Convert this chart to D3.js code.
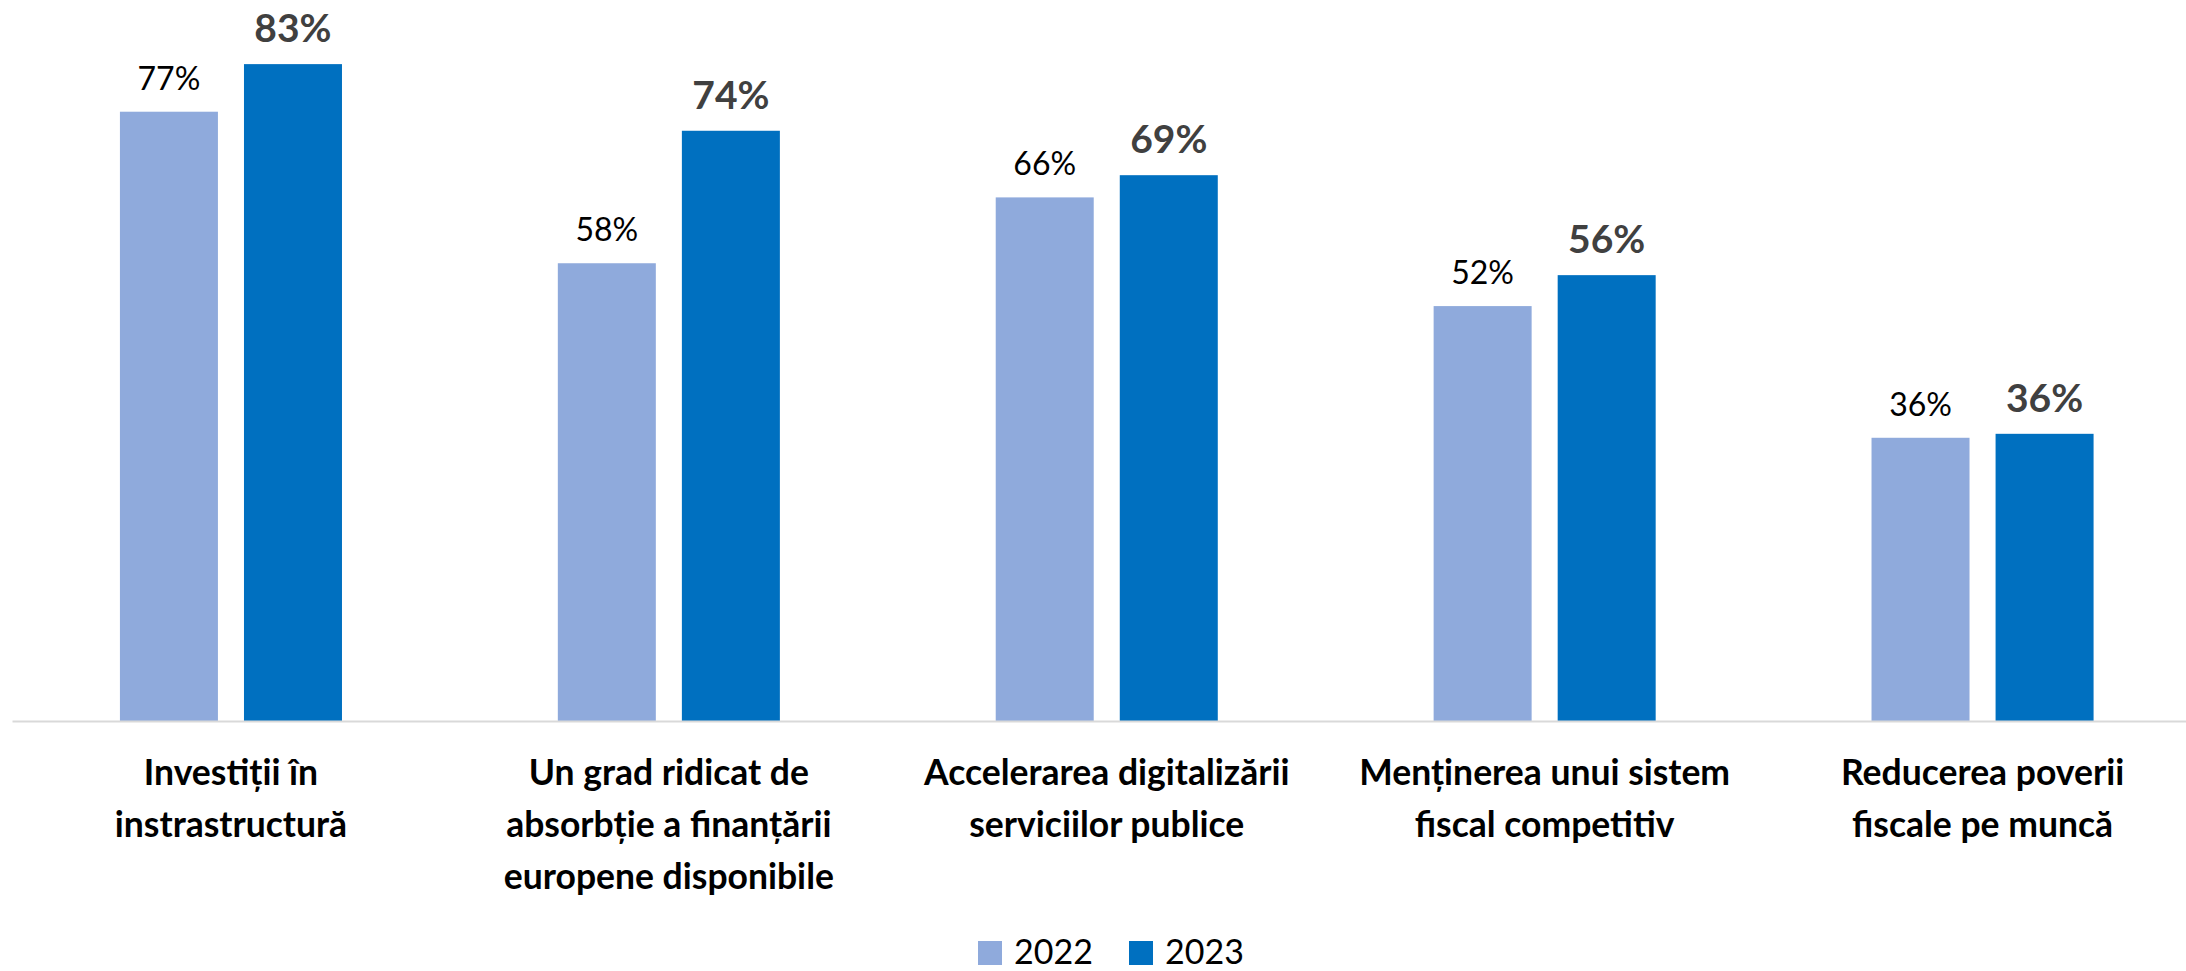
<!DOCTYPE html>
<html>

<head>
    <meta charset="utf-8"/>
    <title>Prioritati 2022 vs 2023</title>
    <script src="https://d3js.org/d3.v7.min.js"></script>

    <style>
        body {
            margin: 0;
            background: #ffffff;
        }
        svg text {
            font-family: Lato, "Open Sans", sans-serif;
        }
        .axis path {
            stroke: #d9d9d9;
            stroke-width: 2px;
        }
        .axis .tick line {
            display: none;
        }
    </style>
</head>

<body>
    <div id="chart"></div>

    <script>
        // Categories (line breaks as in the picture)
        var categories = [
            "Investiții în\ninstrastructură",
            "Un grad ridicat de\nabsorbție a finanțării\neuropene disponibile",
            "Accelerarea digitalizării\nserviciilor publice",
            "Menținerea unui sistem\nfiscal competitiv",
            "Reducerea poverii\nfiscale pe muncă"
        ];

        var years = ["2022", "2023"];

        // Share of respondents (%)
        var values2022 = [76.8, 57.7, 66.0, 52.3, 35.7];
        var values2023 = [82.8, 74.4, 68.8, 56.2, 36.2];

        // Labels shown above the bars
        var labels2022 = ["77%", "58%", "66%", "52%", "36%"];
        var labels2023 = ["83%", "74%", "69%", "56%", "36%"];

        var colors = {"2022": "#8faadc", "2023": "#0070c0"};

        var width = 2186, height = 971;

        var rows = categories.map(function(c, i) {
            return {
                category: c,
                bars: [
                    {year: "2022", value: values2022[i], label: labels2022[i]},
                    {year: "2023", value: values2023[i], label: labels2023[i]}
                ]
            };
        });

        var svg = d3.select("#chart")
                    .append("svg")
                    .attr("width", width)
                    .attr("height", height);

        // Scales
        var x0 = d3.scaleBand()
                   .domain(categories)
                   .range([12, 2201.5])
                   .padding(0);

        var x1 = d3.scaleBand()
                   .domain(years)
                   .range([0, x0.bandwidth()])
                   .paddingInner(0.21)
                   .paddingOuter(0.87);

        var y = d3.scaleLinear()
                  .domain([0, 90])
                  .range([721, 7]);

        // Bars
        var groups = svg.selectAll(".group")
                        .data(rows)
                        .enter()
                        .append("g")
                        .attr("class", "group")
                        .attr("transform", function(d) {
                            return "translate(" + x0(d.category) + ",0)";
                        });

        groups.selectAll("rect")
              .data(function(d) { return d.bars; })
              .enter()
              .append("rect")
              .attr("x", function(d) { return x1(d.year); })
              .attr("y", function(d) { return y(d.value); })
              .attr("width", x1.bandwidth())
              .attr("height", function(d) { return y(0) - y(d.value); })
              .attr("fill", function(d) { return colors[d.year]; });

        // Value labels
        groups.selectAll(".value")
              .data(function(d) { return d.bars; })
              .enter()
              .append("text")
              .attr("class", "value")
              .attr("x", function(d) { return x1(d.year) + x1.bandwidth() / 2; })
              .attr("y", function(d) { return y(d.value) - 22; })
              .attr("text-anchor", "middle")
              .attr("font-size", function(d) { return d.year === "2023" ? 39 : 32; })
              .attr("font-weight", function(d) { return d.year === "2023" ? 700 : 400; })
              .attr("fill", function(d) { return d.year === "2023" ? "#404040" : "#000000"; })
              .text(function(d) { return d.label; });

        // X axis with multi-line category labels
        var xAxis = svg.append("g")
                       .attr("class", "axis")
                       .attr("transform", "translate(0," + y(0) + ")")
                       .call(d3.axisBottom(x0).tickSize(0).tickSizeOuter(0));

        xAxis.selectAll(".tick text").remove();

        xAxis.selectAll(".tick")
             .append("text")
             .attr("text-anchor", "middle")
             .attr("fill", "#000000")
             .attr("font-size", 35.5)
             .attr("font-weight", 700)
             .each(function(d) {
                 var t = d3.select(this);
                 d.split("\n").forEach(function(line, i) {
                     t.append("tspan")
                      .attr("x", 0)
                      .attr("y", 64 + i * 52.2)
                      .text(line);
                 });
             });

        // Legend
        var legend = svg.append("g")
                        .attr("transform", "translate(978,941)");

        var legendX = [0, 151];

        var items = legend.selectAll(".item")
                          .data(years)
                          .enter()
                          .append("g")
                          .attr("class", "item")
                          .attr("transform", function(d, i) {
                              return "translate(" + legendX[i] + ",0)";
                          });

        items.append("rect")
             .attr("width", 24)
             .attr("height", 24)
             .attr("fill", function(d) { return colors[d]; });

        items.append("text")
             .attr("x", 36)
             .attr("y", 23)
             .attr("font-size", 34)
             .attr("fill", "#000000")
             .text(function(d) { return d; });
    </script>
</body>

</html>
